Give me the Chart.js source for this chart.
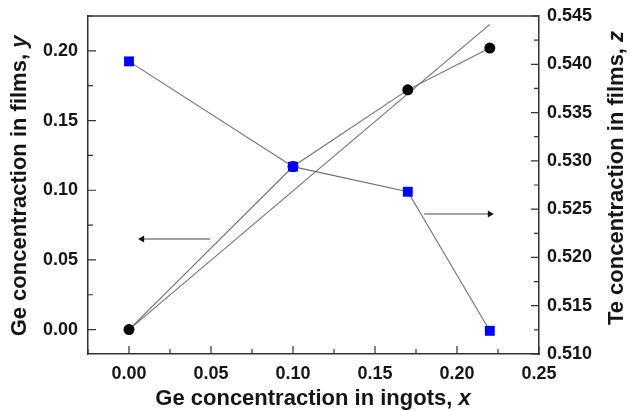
<!DOCTYPE html>
<html>
<head>
<meta charset="utf-8">
<script src="https://cdn.jsdelivr.net/npm/chart.js@4/dist/chart.umd.min.js"></script>
<style>
  body { margin: 0; background: #fff; }
  #wrap { width: 631px; height: 411px; }
</style>
</head>
<body>
<div id="wrap"><canvas id="myChart" width="631" height="411"></canvas></div>
<script>
// x = Ge in ingots, y = Ge in films (left axis), z = Te in films (right axis)
const xIngot = [0, 0.10, 0.17, 0.22]
const geFilm = [0.000, 0.117, 0.172, 0.202]
const teFilm = [0.5403, 0.5294, 0.5268, 0.5124]

// straight line y = x drawn from origin
const fitX = [0, 0.22]
const fitY = [0, 0.219]

// the two pointer arrows
const arrowLeftX = [0.0495, 0.008]
const arrowLeftY = [0.065, 0.065]
const arrowRightX = [0.180, 0.220]
const arrowRightZ = [0.5245, 0.5245]

const xTicks = [0, 0.05, 0.10, 0.15, 0.20, 0.25]
const yTicks = [0, 0.05, 0.10, 0.15, 0.20]
const zTicks = [0.510, 0.515, 0.520, 0.525, 0.530, 0.535, 0.540, 0.545]

const fontFam = '"Liberation Sans", Arial, sans-serif'
const ink = '#151515'

let pts = (xs, ys) => xs.map((x, i) => ({ x: x, y: ys[i] }))

// inward major/minor tick marks, top frame line and axis titles
let frame = {
  id: 'frame',
  afterDraw(chart) {
    let ctx = chart.ctx
    let a = chart.chartArea
    let sx = chart.scales.x, sy = chart.scales.y, sz = chart.scales.z
    ctx.save()
    ctx.strokeStyle = '#333'
    ctx.lineWidth = 1.5
    ctx.beginPath()
    ctx.moveTo(a.left, a.top)
    ctx.lineTo(a.right, a.top)
    ctx.stroke()

    let step = (scale, s, fn) => {
      let n0 = Math.ceil(scale.min / s - 1e-6)
      let n1 = Math.floor(scale.max / s + 1e-6)
      for (let n = n0; n <= n1; n++) fn(scale.getPixelForValue(n * s), n % 2 == 0)
    }
    ctx.lineWidth = 1.2
    ctx.beginPath()
    step(sx, 0.025, (p, maj) => { ctx.moveTo(p, a.bottom); ctx.lineTo(p, a.bottom - (maj ? 8 : 5)) })
    step(sy, 0.025, (p, maj) => { ctx.moveTo(a.left, p); ctx.lineTo(a.left + (maj ? 8 : 5), p) })
    step(sz, 0.0025, (p, maj) => { ctx.moveTo(a.right, p); ctx.lineTo(a.right - (maj ? 8 : 5), p) })
    ctx.stroke()

    let title = (text, v, x, y, rot) => {
      ctx.save()
      ctx.translate(x, y)
      ctx.rotate(rot)
      ctx.fillStyle = ink
      ctx.textBaseline = 'middle'
      let f1 = 'bold 22px ' + fontFam
      let f2 = 'italic bold 22px ' + fontFam
      ctx.font = f1
      let w1 = ctx.measureText(text).width
      ctx.font = f2
      let w2 = ctx.measureText(v).width
      let x0 = -(w1 + w2) / 2
      ctx.font = f1
      ctx.textAlign = 'left'
      ctx.fillText(text, x0, 0)
      ctx.font = f2
      ctx.fillText(v, x0 + w1, 0)
      ctx.restore()
    }
    title('Ge concentraction in ingots, ', 'x', 313, 399, 0)
    title('Ge concentraction in films, ', 'y', 20, 186, -Math.PI / 2)
    title('Te concentraction in films, ', 'z', 617, 178, -Math.PI / 2)
    ctx.restore()
  }
}

let tickFont = { family: fontFam, size: 18, weight: 'bold' }

new Chart('myChart', {
  type: 'scatter',
  data: {
    datasets: [{
      data: pts(xIngot, teFilm),
      yAxisID: 'z',
      showLine: true,
      borderColor: '#6e6e6e',
      borderWidth: 1.1,
      pointStyle: 'rect',
      pointRadius: 7,
      backgroundColor: '#0000ff',
      pointBorderColor: '#0000ff',
      pointBorderWidth: 0
    }, {
      data: pts(xIngot, geFilm),
      yAxisID: 'y',
      showLine: true,
      borderColor: '#6e6e6e',
      borderWidth: 1.1,
      pointStyle: 'circle',
      pointRadius: 5.5,
      backgroundColor: '#000',
      pointBorderColor: '#000',
      pointBorderWidth: 0
    }, {
      data: pts(fitX, fitY),
      yAxisID: 'y',
      showLine: true,
      borderColor: '#6e6e6e',
      borderWidth: 1.1,
      pointRadius: 0
    }, {
      data: pts(arrowLeftX, arrowLeftY),
      yAxisID: 'y',
      showLine: true,
      borderColor: '#444',
      borderWidth: 1,
      pointStyle: 'triangle',
      pointRadius: [0, 4],
      pointRotation: -90,
      backgroundColor: '#111',
      pointBorderColor: '#111',
      pointBorderWidth: 0
    }, {
      data: pts(arrowRightX, arrowRightZ),
      yAxisID: 'z',
      showLine: true,
      borderColor: '#444',
      borderWidth: 1,
      pointStyle: 'triangle',
      pointRadius: [0, 4],
      pointRotation: 90,
      backgroundColor: '#111',
      pointBorderColor: '#111',
      pointBorderWidth: 0
    }]
  },
  options: {
    responsive: false,
    animation: false,
    layout: { padding: { top: 16, left: 0, right: 0, bottom: 0 } },
    plugins: { legend: { display: false }, tooltip: { enabled: false } },
    scales: {
      x: {
        type: 'linear',
        min: -0.025,
        max: 0.25,
        grid: { display: false, drawTicks: false },
        border: { display: true, color: '#333', width: 1.5 },
        afterBuildTicks: s => { s.ticks = xTicks.map(v => ({ value: v })) },
        afterFit: s => { s.height = 57; s.paddingLeft = 0; s.paddingRight = 0 },
        ticks: { font: tickFont, color: ink, padding: 9, maxRotation: 0, callback: v => v.toFixed(2) }
      },
      y: {
        type: 'linear',
        position: 'left',
        min: -0.0175,
        max: 0.225,
        grid: { display: false, drawTicks: false },
        border: { display: true, color: '#333', width: 1.5 },
        afterBuildTicks: s => { s.ticks = yTicks.map(v => ({ value: v })) },
        afterFit: s => { s.width = 88; s.paddingTop = 0; s.paddingBottom = 0 },
        ticks: { font: tickFont, color: ink, padding: 10, callback: v => v.toFixed(2) }
      },
      z: {
        type: 'linear',
        position: 'right',
        min: 0.510,
        max: 0.545,
        grid: { display: false, drawTicks: false },
        border: { display: true, color: '#333', width: 1.5 },
        afterBuildTicks: s => { s.ticks = zTicks.map(v => ({ value: v })) },
        afterFit: s => { s.width = 92; s.paddingTop = 0; s.paddingBottom = 0 },
        ticks: { font: tickFont, color: ink, padding: 8, callback: v => v.toFixed(3) }
      }
    }
  },
  plugins: [frame]
})
</script>
</body>
</html>
